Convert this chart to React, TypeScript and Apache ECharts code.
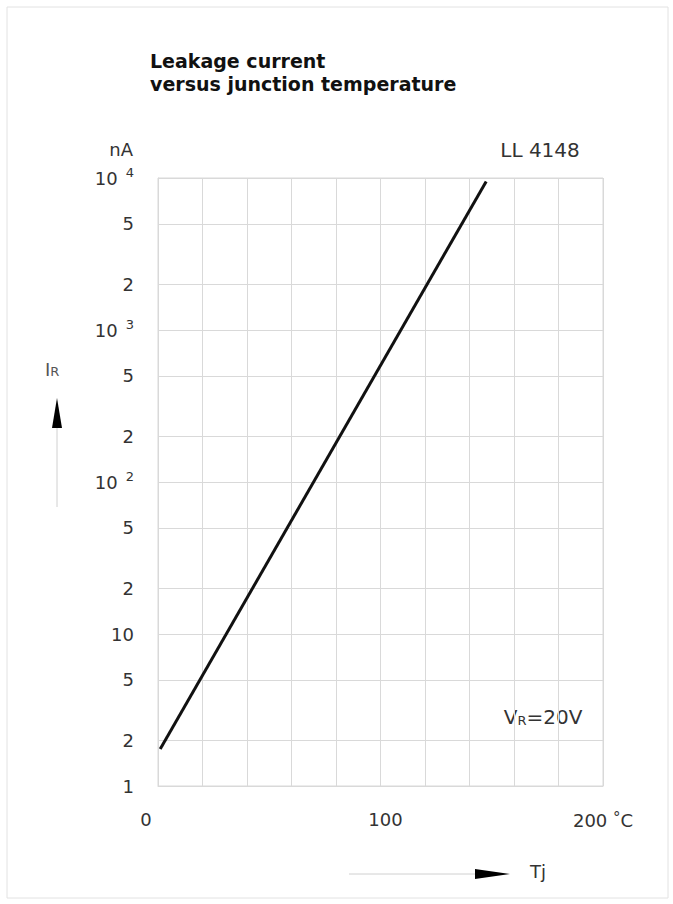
import React, { useEffect, useRef } from "react";
import * as echarts from "echarts";

// Leakage current of the LL 4148 versus junction temperature, VR = 20 V
const junctionTemp = [1, 147.5]; // °C
const leakageCurrent = [1.75, 9500]; // nA

// Gridlines on the log current axis between the decades
const minorCurrentLines = [2, 5, 20, 50, 200, 500, 2000, 5000];
// Decade labels (superscripted exponent)
const decadeLabels: Record<number, string> = {
  1: "1",
  10: "10",
  100: "10{sup|2}",
  1000: "10{sup|3}",
  10000: "10{sup|4}",
};
// Temperature labels shown on the x axis
const tempLabels: Record<number, string> = {
  0: "{z|0}",
  100: "{h|100}",
  200: "200 {deg|°}C",
};

const FONT = "DejaVu Sans";
const GRID = "#d9d9d9";
const TEXT = "#333";

export default function App() {
  const ref = useRef<HTMLDivElement>(null);

  useEffect(() => {
    if (!ref.current) return;
    const chart = echarts.init(ref.current, undefined, { renderer: "svg" });

    const option: echarts.EChartsOption = {
      animation: false,
      backgroundColor: "#fff",
      grid: {
        left: 158,
        top: 178,
        width: 445,
        height: 608,
        show: true,
        borderColor: GRID,
        borderWidth: 1,
      },
      xAxis: {
        type: "value",
        min: 0,
        max: 200,
        interval: 20,
        axisLine: { show: true, lineStyle: { color: GRID } },
        axisTick: { show: false },
        splitLine: { show: true, lineStyle: { color: GRID, width: 1 } },
        axisLabel: {
          show: true,
          margin: 24,
          fontFamily: FONT,
          fontSize: 18,
          color: TEXT,
          formatter: (v: number) => tempLabels[Math.round(v)] ?? "",
          rich: {
            z: { fontFamily: FONT, fontSize: 18, color: TEXT, padding: [0, 24, 0, 0] },
            h: { fontFamily: FONT, fontSize: 18, color: TEXT, padding: [0, 0, 0, 10] },
            deg: {
              fontFamily: FONT,
              fontSize: 15,
              color: TEXT,
              verticalAlign: "top",
              padding: [0, 0, 6, 0],
            },
          },
        },
      },
      yAxis: {
        type: "log",
        logBase: 10,
        min: 1,
        max: 10000,
        splitNumber: 4,
        axisLine: { show: true, lineStyle: { color: GRID } },
        axisTick: { show: false },
        splitLine: { show: true, lineStyle: { color: GRID, width: 1 } },
        axisLabel: {
          margin: 24,
          fontFamily: FONT,
          fontSize: 18,
          color: TEXT,
          formatter: (v: number) => decadeLabels[Math.round(v)] ?? "",
          rich: {
            sup: {
              fontFamily: FONT,
              fontSize: 13,
              color: TEXT,
              verticalAlign: "top",
              padding: [0, 0, 12, 8],
            },
          },
        },
      },
      series: [
        {
          type: "line",
          data: [],
          silent: true,
          z: 1,
          markLine: {
            silent: true,
            z: 1,
            symbol: ["none", "none"],
            lineStyle: { color: GRID, type: "solid", width: 1 },
            emphasis: { disabled: true },
            label: {
              show: true,
              position: "start",
              distance: 24,
              fontFamily: FONT,
              fontSize: 18,
              color: TEXT,
            },
            data: minorCurrentLines.map((v) => ({
              yAxis: v,
              label: { formatter: String(v).charAt(0) },
            })),
          },
        },
        {
          type: "line",
          data: junctionTemp.map((t, i) => [t, leakageCurrent[i]]),
          symbol: "none",
          z: 6,
          lineStyle: { color: "#111", width: 3 },
        },
      ],
      graphic: [
        {
          type: "rect",
          shape: { x: 7, y: 7, width: 661, height: 891 },
          style: { fill: "none", stroke: "#e2e2e2", lineWidth: 1 },
          silent: true,
        },
        {
          type: "text",
          x: 150,
          y: 61,
          style: {
            text: "Leakage current",
            fontFamily: FONT,
            fontWeight: "bold",
            fontSize: 19,
            fill: "#111",
            verticalAlign: "middle",
          },
        },
        {
          type: "text",
          x: 150,
          y: 84,
          style: {
            text: "versus junction temperature",
            fontFamily: FONT,
            fontWeight: "bold",
            fontSize: 19,
            fill: "#111",
            verticalAlign: "middle",
          },
        },
        {
          type: "text",
          x: 133,
          y: 149,
          style: {
            text: "nA",
            fontFamily: FONT,
            fontSize: 18,
            fill: TEXT,
            align: "right",
            verticalAlign: "middle",
          },
        },
        {
          type: "text",
          x: 540,
          y: 150,
          style: {
            text: "LL 4148",
            fontFamily: FONT,
            fontSize: 20,
            fill: TEXT,
            align: "center",
            verticalAlign: "middle",
          },
        },
        {
          type: "text",
          x: 543,
          y: 717,
          style: {
            text: "V{s|R}=20V",
            fontFamily: FONT,
            fontSize: 20,
            fill: TEXT,
            align: "center",
            verticalAlign: "middle",
            rich: {
              s: { fontFamily: FONT, fontSize: 13, fill: TEXT, verticalAlign: "bottom" },
            },
          } as any,
        },
        {
          type: "text",
          x: 45,
          y: 369,
          style: {
            text: "I{s|R}",
            fontFamily: FONT,
            fontSize: 18,
            fill: "#555",
            verticalAlign: "middle",
            rich: {
              s: { fontFamily: FONT, fontSize: 13, fill: "#555", verticalAlign: "bottom" },
            },
          } as any,
        },
        {
          type: "line",
          shape: { x1: 57, y1: 428, x2: 57, y2: 507 },
          style: { stroke: "#d0d0d0", lineWidth: 1 },
        },
        {
          type: "polygon",
          shape: { points: [[52, 428], [62, 428], [57, 398]] },
          style: { fill: "#000" },
        },
        {
          type: "line",
          shape: { x1: 349, y1: 874, x2: 476, y2: 874 },
          style: { stroke: "#d0d0d0", lineWidth: 1 },
        },
        {
          type: "polygon",
          shape: { points: [[475, 869], [475, 879], [510, 874]] },
          style: { fill: "#000" },
        },
        {
          type: "text",
          x: 530,
          y: 871,
          style: {
            text: "Tj",
            fontFamily: FONT,
            fontSize: 18,
            fill: TEXT,
            verticalAlign: "middle",
          },
        },
      ],
    };

    chart.setOption(option);
    return () => chart.dispose();
  }, []);

  return (
    <div
      ref={ref}
      style={{ position: "fixed", left: 0, top: 0, width: 673, height: 904 }}
    />
  );
}
